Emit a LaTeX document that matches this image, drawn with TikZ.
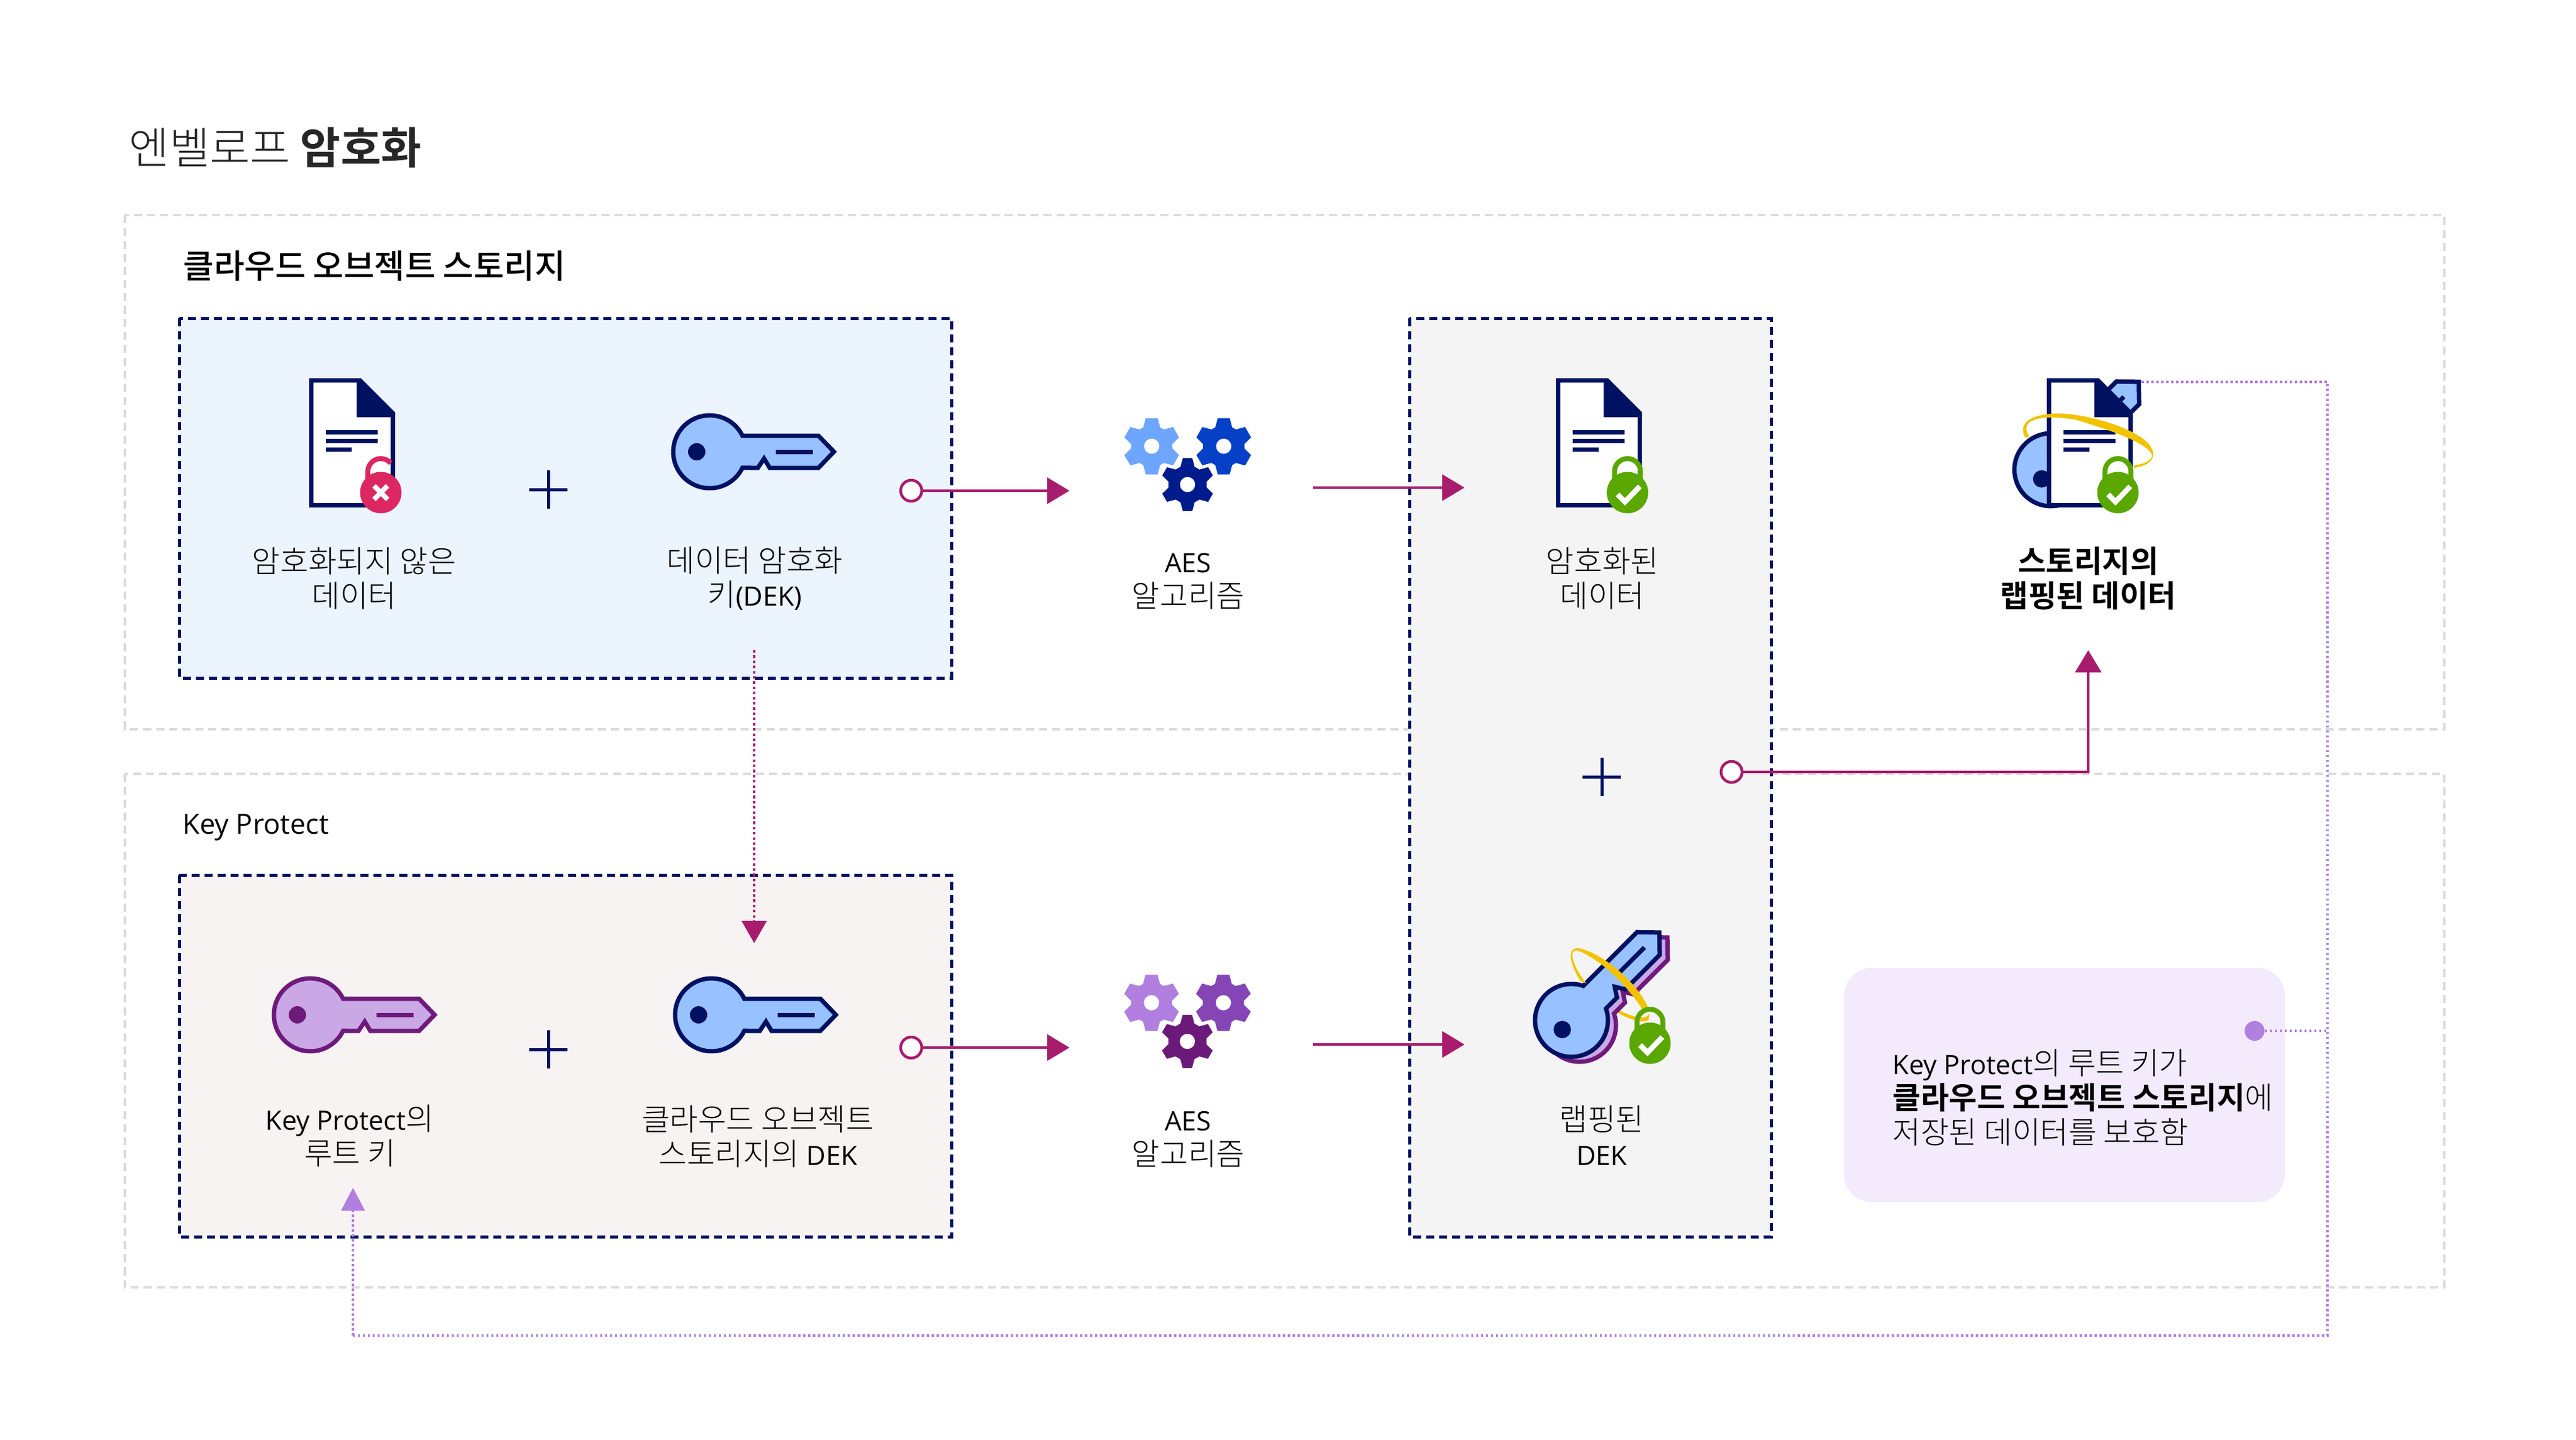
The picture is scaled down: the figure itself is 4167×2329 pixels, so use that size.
\documentclass[tikz,border=0pt]{standalone}
\usepackage{fontspec}
\setmainfont{Open Sans}[Scale=0.87]
\newfontfamily\krfont{Noto Sans CJK KR}[UprightFont=* Light,BoldFont=* Bold]
\newfontfamily\krmedium{Noto Sans CJK KR Medium}
\usetikzlibrary{arrows.meta}
\definecolor{navy}{HTML}{001161}
\definecolor{keyblue}{HTML}{97C1FF}
\definecolor{keypurple}{HTML}{6E1A7B}
\definecolor{keylilac}{HTML}{CAA8E6}
\definecolor{wine}{HTML}{A81C6E}
\definecolor{lilac}{HTML}{B07FE0}
\definecolor{zonegrey}{HTML}{DCDCDC}
\definecolor{lockgreen}{HTML}{5AA700}
\definecolor{lockred}{HTML}{DC2763}
\definecolor{ringgold}{HTML}{F1C300}
\definecolor{paleblue}{HTML}{ECF4FE}
\definecolor{palebeige}{HTML}{F7F3F2}
\definecolor{palegrey}{HTML}{F4F4F4}
\definecolor{palelilac}{HTML}{F3EBFB}
\definecolor{gearsky}{HTML}{6EA6FF}
\definecolor{gearblue}{HTML}{0540C6}
\definecolor{gearnavy}{HTML}{001B8C}
\definecolor{gearlilac}{HTML}{B07FDF}
\definecolor{gearviolet}{HTML}{8545B5}
\definecolor{gearplum}{HTML}{6C1A7A}
\def\kr#1{{\krfont #1}}
\def\keyicon(#1,#2)[#3][#4][#5]{
	\begin{scope}[shift={(#1,#2)},rotate=#5]
		\draw[draw=#3,fill=#4,line width=0.7mm,miter limit=4] (-26.1:59) arc (-26.1:-333.9:59) -- (78,26) -- (88,11) -- (97,26) -- (176,26) -- (201,0) -- (176,-26) -- cycle;
		\fill[#3] (-21,0) circle (14);
		\draw[#3,line width=0.7mm] (107,0) -- (167,0);
	\end{scope}
}
\def\docicon(#1,#2){
	\begin{scope}[shift={(#1,#2)}]
		\draw[navy,fill=white,line width=0.7mm] (3.5,3.5) -- (81,3.5) -- (135.5,58) -- (135.5,205.5) -- (3.5,205.5) -- cycle;
		\fill[navy] (77,0) -- (84,0) -- (139,55) -- (139,63) -- (77,63) -- cycle;
		\draw[navy,line width=0.7mm] (27,87) -- (111,87);
		\draw[navy,line width=0.7mm] (27,101) -- (111,101);
		\draw[navy,line width=0.7mm] (27,115) -- (69,115);
	\end{scope}
}
\def\lockicon(#1,#2){
	\begin{scope}[shift={(#1,#2)}]
		\draw[lockgreen,line width=0.8mm] (-21,-15) -- (-21,-34) arc (180:360:21) -- (21,-15);
		\fill[lockgreen] (0,0) circle (33.5);
		\draw[white,line width=0.85mm] (-16,3) -- (-4,15) -- (20,-10);
	\end{scope}
}
\def\openlockicon(#1,#2){
	\begin{scope}[shift={(#1,#2)}]
		\draw[lockred,line width=0.8mm] (-21,-15) -- (-21,-34) arc (180:320:21);
		\fill[lockred] (0,0) circle (33.5);
		\draw[white,line width=0.8mm] (-11,-11) -- (11,11) (-11,11) -- (11,-11);
	\end{scope}
}
\def\gearicon(#1,#2)[#3]{
	\begin{scope}[shift={(#1,#2)}]
		\path[#3] (-114:33.5) \foreach \a in {-90,-30,30,90,150,210} { -- (\a-24:33.5) -- (\a-12:46.5) -- (\a+12:46.5) -- (\a+24:33.5) } -- cycle;
		\fill[white] (0,0) circle (12.3);
	\end{scope}
}
\tikzset{
	zonebox/.style={draw=zonegrey,line width=0.4mm,dash pattern=on 1.3mm off 0.8mm},
	groupbox/.style={draw=navy,line width=0.5mm,dash pattern=on 1.3mm off 0.8mm},
	lab/.style={align=center,inner sep=0pt,font=\fontsize{14.1}{15.9}\selectfont},
	wire/.style={wine,line width=0.45mm,-{Triangle[length=3.6mm,width=4.2mm]}},
	startdot/.style={circle,draw=wine,fill=white,line width=0.45mm,inner sep=0pt,minimum size=3.4mm},
	dotwine/.style={wine,line width=0.4mm,dash pattern=on 0.42mm off 0.42mm},
	dotlilac/.style={lilac,line width=0.4mm,dash pattern=on 0.36mm off 0.44mm},
	plusmark/.style={navy,line width=0.5mm},
}
\begin{document}
\begin{tikzpicture}[x=0.01cm,y=-0.01cm]
	\useasboundingbox (0,0) rectangle (4167,2329);
	%%%%% frames %%%%%
	\draw[zonebox] (202,348) rectangle (3954,1180);
	\draw[zonebox] (202,1252) rectangle (3954,2083);
	\path[groupbox,fill=paleblue] (290,515) rectangle (1539,1097);
	\path[groupbox,fill=palebeige] (290,1416) rectangle (1539,2001);
	\path[groupbox,fill=palegrey] (2280,515) rectangle (2865,2001);
	\fill[rounded corners=0.45cm,fill=palelilac] (2983,1566) rectangle (3696,1945);

	%%%%% titles %%%%%
	\node[inner sep=0pt,anchor=west,font=\fontsize{20.2}{24}\selectfont,text=black!85] (maintitle) at (208,239) {\kr{엔벨로프 \bfseries 암호화}};
	\node[inner sep=0pt,anchor=west,font=\fontsize{15.3}{20}\selectfont] (cloudtitle) at (296,430) {\krmedium 클라우드 오브젝트 스토리지};
	\node[inner sep=0pt,anchor=west,font=\fontsize{14.7}{18}\selectfont] (kptitle) at (295,1339) {Key Protect};

	%%%%% top row %%%%%
	\docicon(500,612)
	\openlockicon(616,797)
	\node[lab] (plainlab) at (573,936) {\kr{암호화되지 않은}\\\kr{데이터}};
	\draw[plusmark] (856,792) -- (918,792) (887,761) -- (887,823);
	\keyicon(1148,731)[navy][keyblue][0]
	\node[lab] (deklab) at (1221,936) {\kr{데이터 암호화}\\\kr{키}(DEK)};
	\gearicon(1863,722)[fill=gearsky]
	\gearicon(1979.5,722)[fill=gearblue]
	\gearicon(1921,784)[fill=gearnavy,draw=white,line width=0.5mm]
	\node[lab] (aeslab) at (1922,941) {AES\\\kr{알고리즘}};
	\docicon(2517,612)
	\lockicon(2632.6,797)
	\node[lab] (cipherlab) at (2592,936) {\kr{암호화된}\\\kr{데이터}};
	\draw[plusmark] (2560,1257) -- (2622,1257) (2591,1226) -- (2591,1288);

	%%%%% wrapped data icon %%%%%
	\keyicon(3317.5,760)[navy][keyblue][45]
	\docicon(3311,612)
	\fill[ringgold] (3276,708) .. controls (3266,690) and (3275,669) .. (3333,669) .. controls (3385,671) and (3483,700) .. (3483,735) .. controls (3483,750) and (3465,755) .. (3452,757) -- (3452,753) .. controls (3468,751) and (3481,745) .. (3481,737) .. controls (3478,720) and (3425,699) .. (3357,679) .. controls (3310,671) and (3262,675) .. (3283,707) -- cycle;
	\lockicon(3426,797)
	\node[lab] (wrappedlab) at (3378,936) {\kr{\bfseries 스토리지의}\\\kr{\bfseries 랩핑된 데이터}};

	%%%%% bottom row %%%%%
	\keyicon(502,1642)[keypurple][keylilac][0]
	\node[lab] (rootlab) at (566,1838) {Key Protect\kr{의}\\\kr{루트 키}};
	\draw[plusmark] (856,1698) -- (918,1698) (887,1667) -- (887,1729);
	\keyicon(1151,1642)[navy][keyblue][0]
	\node[lab] (clouddeklab) at (1226,1839) {\kr{클라우드 오브젝트}\\\kr{스토리지의} DEK};
	\gearicon(1862.7,1622.5)[fill=gearlilac]
	\gearicon(1979,1622.5)[fill=gearviolet]
	\gearicon(1920.7,1685)[fill=gearplum,draw=white,line width=0.5mm]
	\node[lab] (aesblab) at (1922,1844) {AES\\\kr{알고리즘}};

	%%%%% wrapped key icon %%%%%
	\fill[ringgold] (2616,1638) .. controls (2640,1652) and (2660,1656) .. (2667,1650) -- (2668,1640) .. controls (2664,1650) and (2645,1648) .. (2618,1634) -- cycle;
	\keyicon(2555,1659)[keypurple][keylilac][45]
	\keyicon(2542,1651)[navy][keyblue][45]
	\fill[ringgold] (2557,1588) .. controls (2545,1570) and (2530,1535) .. (2552,1534) .. controls (2590,1540) and (2650,1590) .. (2667,1633) -- (2660,1638) .. controls (2630,1590) and (2585,1550) .. (2552,1538) .. controls (2535,1535) and (2545,1565) .. (2566,1591) -- cycle;
	\lockicon(2669,1688)
	\node[lab] (wrapdeklab) at (2591,1837) {\kr{랩핑된}\\DEK};

	%%%%% note %%%%%
	\node[lab,align=left,anchor=west] (notelab) at (3061,1776) {Key Protect\kr{의 루트 키가}\\\kr{\bfseries 클라우드 오브젝트 스토리지}\kr{에}\\\kr{저장된 데이터를 보호함}};

	%%%%% connectors %%%%%
	\node[startdot] (plaindot) at (1474,794) {};
	\node[startdot] (sourcedot) at (1474,1695) {};
	\node[startdot] (joindot) at (2801,1249) {};
	\node[circle,fill=lilac,inner sep=0pt,minimum size=3.2mm] (notedot) at (3647,1668) {};
	\coordinate (aestop) at (1730,794);
	\coordinate (aesbottom) at (1730,1695);
	\coordinate (cipherstart) at (2124,789);
	\coordinate (cipherend) at (2369,789);
	\coordinate (wrapstart) at (2124,1690);
	\coordinate (wrapend) at (2369,1690);
	\coordinate (storedtip) at (3378,1052);
	\coordinate (dekstart) at (1220,1052);
	\coordinate (dektip) at (1220,1526);
	\coordinate (storedcorner) at (3464,618);
	\coordinate (railtop) at (3765,618);
	\coordinate (railnote) at (3765,1668);
	\coordinate (railbottom) at (3765,2161);
	\coordinate (rootfoot) at (571,2161);
	\coordinate (roottip) at (571,1922);
	\draw[wire] (plaindot) -- (aestop);
	\draw[wire] (sourcedot) -- (aesbottom);
	\draw[wire] (cipherstart) -- (cipherend);
	\draw[wire] (wrapstart) -- (wrapend);
	\draw[wire] (joindot) -| (storedtip);
	\draw[dotwine,-{Triangle[length=3.6mm,width=4mm]}] (dekstart) -- (dektip);
	\draw[dotlilac] (storedcorner) -- (railtop) -- (railbottom) -- (rootfoot);
	\draw[dotlilac,-{Triangle[length=3.7mm,width=3.8mm]}] (rootfoot) -- (roottip);
	\draw[dotlilac] (notedot) -- (railnote);
\end{tikzpicture}
\end{document}
